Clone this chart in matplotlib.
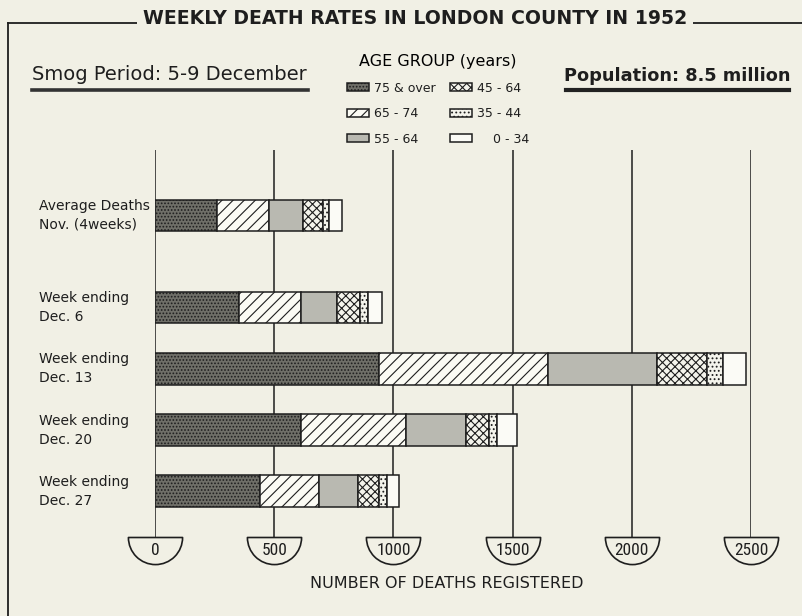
import numpy as np
import matplotlib
matplotlib.use("Agg")
import matplotlib.pyplot as plt
from matplotlib import font_manager
from matplotlib.path import Path
from matplotlib.lines import Line2D
import matplotlib.transforms as mtransforms

# ---------------- data ----------------
categories = ["Average Deaths\nNov. (4weeks)", "Week ending\nDec. 6", "Week ending\nDec. 13",
              "Week ending\nDec. 20", "Week ending\nDec. 27"]
cat_pos = [0, 1.5, 2.5, 3.5, 4.5]
age_groups = ["75 & over", "65 - 74", "55 - 64", "45 - 64", "35 - 44", "\u2007\u20070 - 34"]
deaths_75_over = [260, 352, 939, 612, 440]
deaths_65_74 = [218, 260, 709, 440, 248]
deaths_55_64 = [142, 151, 457, 252, 163]
deaths_45_54 = [84, 97, 209, 97, 88]
deaths_35_44 = [26, 33, 68, 33, 34]
deaths_0_34 = [54, 59, 96, 84, 50]
series = [deaths_75_over, deaths_65_74, deaths_55_64, deaths_45_54, deaths_35_44, deaths_0_34]
x_ticks = [0, 500, 1000, 1500, 2000, 2500]
tick_labels = ["0", "500", "1000", "1500", "2000", "2500"]

# ---------------- style ----------------
def pick(cands, default="DejaVu Sans"):
    for c in cands:
        try:
            font_manager.findfont(font_manager.FontProperties(family=c), fallback_to_default=False)
            return c
        except Exception:
            pass
    return default

NARROW = pick(["Liberation Sans Narrow", "DejaVu Sans Condensed", "Roboto Condensed"])
BG = "#f1f0e5"
INK = "#1e1e1e"
plt.rcParams["font.family"] = ["DejaVu Sans"]
plt.rcParams["hatch.linewidth"] = 0.8

styles = [
    dict(facecolor="#6f6f68", hatch="....."),
    dict(facecolor="#fbfbf4", hatch="///"),
    dict(facecolor="#b9b9b1", hatch=None),
    dict(facecolor="#f4f4ec", hatch="xxxx"),
    dict(facecolor="#f4f4ec", hatch="...."),
    dict(facecolor="#fbfbf6", hatch=None),
]

W, H = 803, 616
fig = plt.figure(figsize=(W / 100, H / 100), dpi=100, facecolor=BG)
fx = lambda px: px / W
fy = lambda py: 1 - py / H

# plotting axes: 0 -> x=155px, 2500 -> x=751px ; top y=150px, bottom y=537px
ax = fig.add_axes([fx(155), fy(537), (751 - 155) / W, (537 - 150) / H])
ax.set_facecolor("none")
ax.set_xlim(0, 2500)
unit = 61.3
ax.set_ylim((537 - 215.5) / unit, (150 - 215.5) / unit)
ax.axis("off")

blend = mtransforms.blended_transform_factory(ax.transData, ax.transAxes)
ax.vlines(x_ticks, 0, 1, transform=blend, color=INK, lw=1.1, zorder=1)

left = np.zeros(len(cat_pos))
handles = []
for vals, st, lab in zip(series, styles, age_groups):
    b = ax.barh(cat_pos, vals, left=left, height=0.52, facecolor=st["facecolor"],
                hatch=st["hatch"], edgecolor=INK, linewidth=1.1, zorder=3, label=lab)
    handles.append(b)
    left = left + np.array(vals)

# semicircle tick badges
arc = Path.arc(180, 360)
semi = Path(np.vstack([arc.vertices, arc.vertices[:1]]), list(arc.codes) + [Path.CLOSEPOLY])
ax.plot(x_ticks, [0] * len(x_ticks), transform=blend, marker=semi, markersize=39,
        mfc=BG, mec=INK, mew=1.2, ls="none", clip_on=False, zorder=4)
for t, lab in zip(x_ticks, tick_labels):
    ax.annotate(lab, xy=(t, 0), xycoords=("data", "axes fraction"), xytext=(0, -10),
                textcoords="offset points", ha="center", va="center",
                fontsize=12.5, family=[NARROW, "DejaVu Sans"], color=INK, zorder=5)

fig.text(fx(447), fy(583), "NUMBER OF DEATHS REGISTERED", ha="center", va="center",
         fontsize=11.5, color=INK)

# category labels
lab_tr = mtransforms.blended_transform_factory(fig.transFigure, ax.transData)
for c, p in zip(categories, cat_pos):
    ax.text(fx(39), p, c, transform=lab_tr, ha="left", va="center", fontsize=10,
            linespacing=1.45, color=INK)

# frame and title
fig.add_artist(Line2D([fx(8), 1], [fy(23), fy(23)], transform=fig.transFigure, color=INK, lw=1.3))
fig.add_artist(Line2D([fx(8), fx(8)], [fy(23), 0], transform=fig.transFigure, color=INK, lw=1.3))
fig.text(fx(415), fy(19), "WEEKLY DEATH RATES IN LONDON COUNTY IN 1952", ha="center", va="center",
         fontsize=13.6, fontweight="bold", color=INK, zorder=5,
         bbox=dict(facecolor=BG, edgecolor="none", pad=4))

fig.text(fx(32), fy(75), "Smog Period: 5-9 December", ha="left", va="center", fontsize=14, color=INK)
fig.add_artist(Line2D([fx(32), fx(308)], [fy(89.5), fy(89.5)], transform=fig.transFigure, color="#333", lw=2.6))
fig.text(fx(564), fy(76), "Population: 8.5 million", ha="left", va="center", fontsize=12.8,
         fontweight="bold", color=INK)
fig.add_artist(Line2D([fx(566), fx(789)], [fy(90), fy(90)], transform=fig.transFigure, color="#222", lw=3.0))

leg = fig.legend(handles=handles, labels=age_groups, ncol=2, loc="upper center",
                 bbox_to_anchor=(fx(438), fy(48)), frameon=False, fontsize=9,
                 title="AGE GROUP (years)", title_fontsize=11.5, handlelength=1.76,
                 handleheight=0.64, handletextpad=0.35, labelspacing=1.0, columnspacing=1.2,
                 borderpad=0)
for t in leg.get_texts():
    t.set_color(INK)

fig.savefig("out.png", dpi=100, facecolor=BG)
